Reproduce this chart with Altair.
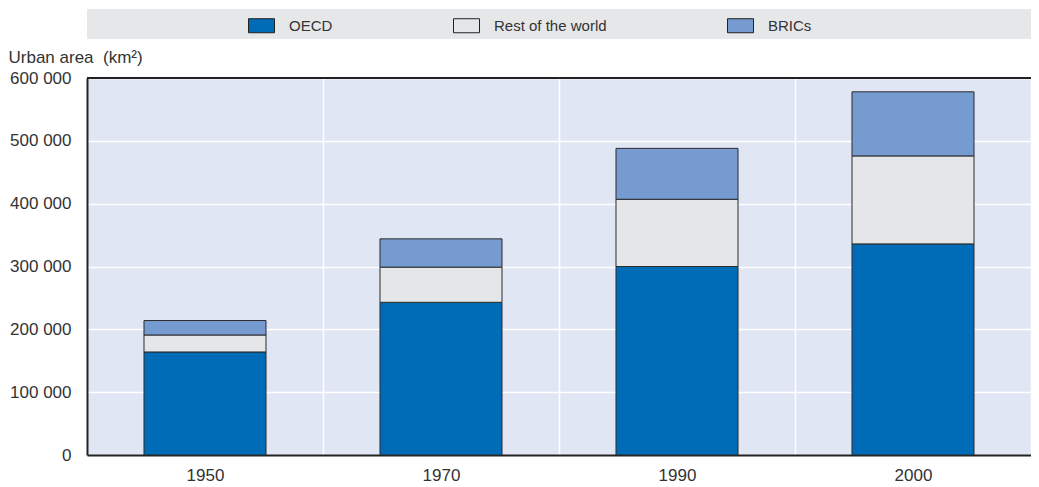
import altair as alt
import pandas as pd

years = ["1950", "1970", "1990", "2000"]
series = ["OECD", "Rest of the world", "BRICs"]
oecd = [164000, 243000, 300000, 336000]
rest_world = [27000, 56000, 107000, 140000]
brics = [23000, 45000, 81000, 102000]
colors = ["#006BB6", "#E5E6E8", "#769BD1"]
y_ticks = [0, 100000, 200000, 300000, 400000, 500000, 600000]

rows = []
for i, y in enumerate(years):
    for k, (s, vals) in enumerate(zip(series, [oecd, rest_world, brics])):
        rows.append({"year": y, "series": s, "value": vals[i], "idx": k})
df = pd.DataFrame(rows)

W, H = 944, 377
FONT = "'Liberation Sans Narrow', 'Arial Narrow', 'Liberation Sans', sans-serif"

band = alt.Chart(pd.DataFrame({"a": [0]})).mark_rect(color="#E6E7E9").encode(
    x=alt.value(0), x2=alt.value(W), y=alt.value(-69), y2=alt.value(-39)
)

bars = alt.Chart(df).mark_bar(
    stroke="#2b2b2b", strokeWidth=1, width=alt.RelativeBandSize(0.517)
).encode(
    x=alt.X(
        "year:N",
        sort=years,
        scale=alt.Scale(paddingInner=0, paddingOuter=0),
        axis=alt.Axis(
            title=None, labelAngle=0, labelFontSize=17, labelPadding=12,
            labelColor="#333333", ticks=False, tickBand="extent",
            grid=True, gridColor="white", gridWidth=1.5,
            domainColor="#222222", domainWidth=2,
        ),
    ),
    y=alt.Y(
        "value:Q",
        stack="zero",
        scale=alt.Scale(domain=[0, 600000]),
        axis=alt.Axis(
            values=y_ticks,
            labelExpr="replace(format(datum.value, ','), ',', ' ')",
            ticks=False, labelPadding=16, labelFontSize=17, labelColor="#333333",
            domainColor="#222222", domainWidth=2,
            grid=True, gridColor="white", gridWidth=1.5,
            title="Urban area\u00a0 (km²)", titleAngle=0, titleX=-79, titleY=-21,
            titleAlign="left", titleBaseline="middle", titleFontWeight="normal",
            titleFontSize=17, titleColor="#333333",
        ),
    ),
    color=alt.Color(
        "series:N",
        scale=alt.Scale(domain=series, range=colors),
        legend=alt.Legend(
            title=None, orient="none", legendX=161, legendY=-66,
            direction="horizontal",
            symbolType="M-1,-0.54H1V0.54H-1Z", symbolSize=676,
            symbolStrokeColor="#222222", symbolStrokeWidth=1, symbolOpacity=1,
            labelFontSize=15, labelColor="#333333", labelOffset=14,
            columnPadding=118,
        ),
    ),
    order=alt.Order("idx:Q"),
)

top_rule = alt.Chart(pd.DataFrame({"a": [0]})).mark_rule(color="#222222", strokeWidth=2).encode(
    x=alt.value(0), x2=alt.value(W), y=alt.value(0)
)

chart = alt.layer(band, bars, top_rule).properties(
    width=W, height=H,
    autosize=alt.AutoSizeParams(type="none"),
    padding={"left": 79, "top": 70, "right": 0, "bottom": 32},
).configure(font=FONT, background="white").configure_view(fill="#E1E6F4", stroke=None)

chart.save("out.html", embed_options={"renderer": "svg", "actions": False})
